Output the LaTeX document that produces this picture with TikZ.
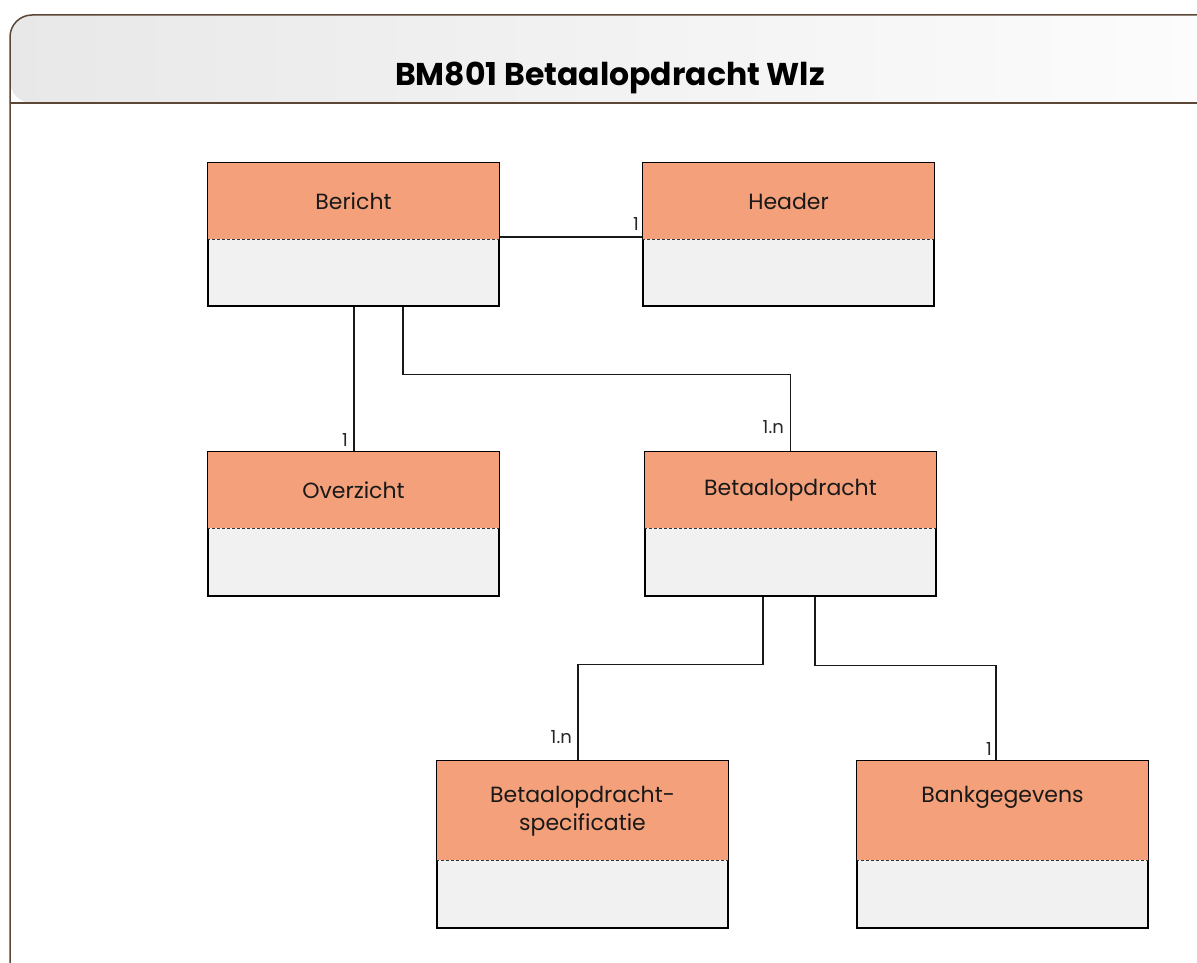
\documentclass[tikz,border=0pt]{standalone}
\usepackage{fontspec}
\setmainfont{Poppins}
\usetikzlibrary{calc}
\definecolor{frm}{HTML}{5C4636}
\definecolor{hdr}{HTML}{F4A07A}
\definecolor{bdy}{HTML}{F1F1F1}
\tikzset{
  umlbox/.style={draw=black, line width=1.3pt, fill=bdy, minimum width=291pt, minimum height=#1, inner sep=0pt},
  divline/.style={densely dashed, line width=0.5pt, draw=black!80},
  lbl/.style={font=\fontsize{22}{28}\selectfont, align=center, text=black!90, inner sep=0pt},
  mult/.style={font=\fontsize{18}{20}\selectfont, text=black!85, inner sep=0pt},
  conn/.style={draw=black!90, line width=1.3pt},
}
\begin{document}
\begin{tikzpicture}[x=1pt,y=1pt]
\useasboundingbox (0,0) rectangle (1197,-963);
% frame
\begin{scope}
\clip (0,0) rectangle (1197,-963);
\shade[left color=black!9, right color=black!1, rounded corners=22pt] (10,-15) rectangle (1230,-103) -- (10,-103);
\fill[white] (10,-103) rectangle (1230,-1000);
\draw[frm, line width=1.5pt, rounded corners=22pt] (10,-103) -- (10,-15) -- (1230,-15) -- (1230,-103);
\draw[frm, line width=1.5pt, rounded corners=22pt] (10,-103) -- (10,-990) -- (1230,-990) -- (1230,-103);
\draw[frm, line width=1.8pt] (10,-103) -- (1230,-103);
\end{scope}
\node[font=\fontsize{31.5}{35}\selectfont\bfseries, inner sep=0pt] (title) at (610,-78) {BM801 Betaalopdracht Wlz};

% boxes
\newcommand\umlbx[7]{% name, cx, top, bottom, divider y, text y, text
  \node[umlbox=#4-#3 pt] (#1) at (#2,{-(#3+#4)/2}) {};
  \fill[hdr] ([shift={(0.65pt,-0.65pt)}]#1.north west) rectangle ([xshift=-0.65pt]#1.east |- 0,-#5);
  \draw[divline] (#1.west |- 0,-#5) -- (#1.east |- 0,-#5);
  \draw[line width=1.3pt] (#1.north west) rectangle (#1.south east);
  \node[lbl] (#1-t) at (#2,-#6) {#7};
}
\umlbx{ber}{353.5}{163}{306}{239}{201}{Bericht}
\umlbx{hd}{788.5}{163}{306}{239}{201}{Header}
\umlbx{ov}{353.5}{452}{596}{528}{490}{Overzicht}
\umlbx{bet}{790.5}{452}{596}{528}{490}{Betaalopdracht}
\umlbx{spec}{582.5}{761}{928}{860}{811}{Betaalopdracht-\\specificatie}
\umlbx{bank}{1002.5}{761}{928}{860}{797}{Bankgegevens}

% connectors
\draw[conn] (ber.east |- 0,-237) -- (hd.west |- 0,-237);
\draw[conn] ([xshift=0.5pt]ber.south) -- ([xshift=0.5pt]ov.north);
\draw[conn] ([xshift=49.5pt]ber.south) -- ++(0,-68) -| (bet.north);
\draw[conn] ([xshift=-27.5pt]bet.south) -- ++(0,-68) -| ([xshift=-4.5pt]spec.north);
\draw[conn] ([xshift=24.5pt]bet.south) -- ++(0,-69) -| ([xshift=-6.5pt]bank.north);

% multiplicities
\node[mult, anchor=south east] (m1) at (639,-231) {1};
\node[mult, anchor=south east] (m2) at (348,-447) {1};
\node[mult, anchor=south east] (m3) at (784,-434) {1.n};
\node[mult, anchor=south east] (m4) at (572,-744) {1.n};
\node[mult, anchor=south east] (m5) at (992,-756) {1};
\end{tikzpicture}
\end{document}
